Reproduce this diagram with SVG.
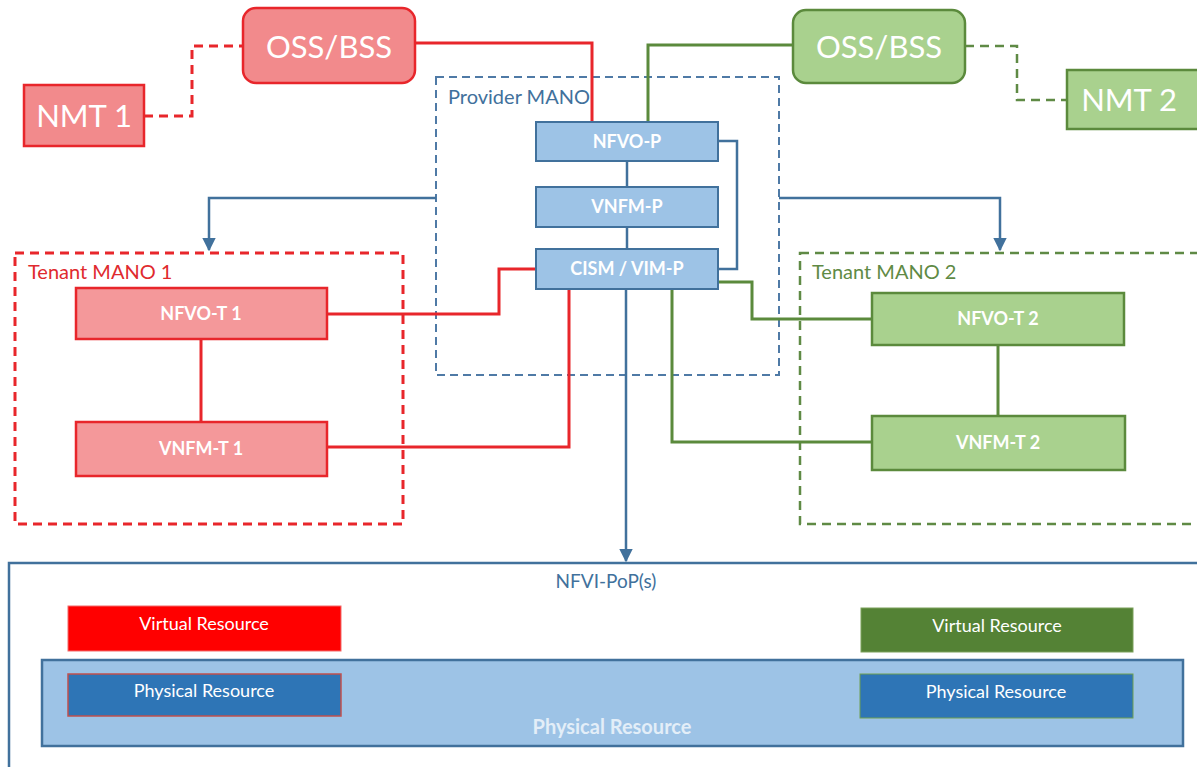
<svg xmlns="http://www.w3.org/2000/svg" width="1197" height="767" viewBox="0 0 1197 767">
  <style>
    .lbl { font-family: Lato, "Liberation Sans", sans-serif; }
    .big { font-size: 31px; fill: #ffffff; text-anchor: middle; }
    .node { font-size: 18px; font-weight: bold; fill: #ffffff; text-anchor: middle; }
    .res { font-size: 18px; fill: #ffffff; text-anchor: middle; }
    .red-box { fill: #f4989a; stroke: #e8262b; stroke-width: 2.5; }
    .red-main { fill: #f28a8c; stroke: #e8262b; stroke-width: 2.5; }
    .green-box { fill: #a9d18e; stroke: #5b8a3c; stroke-width: 2.5; }
    .blue-box { fill: #9dc3e6; stroke: #41719c; stroke-width: 2; }
    .c-red { fill: none; stroke: #e8262b; stroke-width: 3; }
    .c-green { fill: none; stroke: #5b8a3c; stroke-width: 3; }
    .c-blue { fill: none; stroke: #41719c; stroke-width: 2.5; }
    .dash-red { fill: none; stroke: #e8262b; stroke-width: 3; stroke-dasharray: 9 6; }
    .dash-green { fill: none; stroke: #5f8a45; stroke-width: 2.5; stroke-dasharray: 9 6; }
    .dash-blue { fill: none; stroke: #4f7aa6; stroke-width: 2; stroke-dasharray: 8 5; }
  </style>
  <defs>
    <marker id="arrow" viewBox="0 0 10 10" refX="9" refY="5" markerWidth="5.5" markerHeight="5.5" orient="auto" markerUnits="strokeWidth">
      <path d="M0,0 L10,5 L0,10 Z" fill="#41719c"/>
    </marker>
  </defs>

  <rect width="1197" height="767" fill="#ffffff"/>

  <!-- containers -->
  <g id="nfvi-pop">
    <rect x="9" y="563" width="1200" height="220" fill="#ffffff" stroke="#41719c" stroke-width="2.5"/>
    <text class="lbl" x="606" y="588" font-size="19" fill="#41719c" text-anchor="middle">NFVI-PoP(s)</text>
  </g>
  <g id="provider-mano">
    <rect x="436" y="77" width="343" height="298" class="dash-blue"/>
    <text class="lbl" x="448" y="104" font-size="20" fill="#41719c">Provider MANO</text>
  </g>
  <g id="tenant-mano-1">
    <rect x="15" y="253" width="388" height="271" class="dash-red"/>
    <text class="lbl" x="28" y="279" font-size="20" fill="#e02a2e">Tenant MANO 1</text>
  </g>
  <g id="tenant-mano-2">
    <rect x="800" y="253" width="420" height="271" class="dash-green"/>
    <text class="lbl" x="812" y="279" font-size="20" fill="#5f8a45">Tenant MANO 2</text>
  </g>

  <!-- connectors -->
  <g id="connectors">
    <path class="dash-red" d="M144,116 H192 V46 H243"/>
    <path class="dash-green" d="M965,46 H1017 V100 H1067"/>
    <path class="c-red" d="M415,43 H592 V122"/>
    <path class="c-green" d="M793,45 H648 V122"/>
    <path class="c-blue" d="M627,161 V187"/>
    <path class="c-blue" d="M627,227 V249"/>
    <path class="c-blue" d="M718,141 H737 V269 H718"/>
    <path class="c-blue" d="M436,198 H209 V250" marker-end="url(#arrow)"/>
    <path class="c-blue" d="M779,198 H1000 V250" marker-end="url(#arrow)"/>
    <path class="c-blue" d="M626,289 V561" marker-end="url(#arrow)"/>
    <path class="c-red" d="M536,269 H499 V314 H327"/>
    <path class="c-red" d="M569,289 V447 H327"/>
    <path class="c-red" d="M201,339 V422"/>
    <path class="c-green" d="M718,282 H752 V319 H872"/>
    <path class="c-green" d="M672,289 V442 H872"/>
    <path class="c-green" d="M998,345 V416"/>
  </g>

  <!-- management nodes -->
  <g id="nmt-1">
    <rect x="24" y="85" width="120" height="61" class="red-main"/>
    <text class="lbl big" x="84" y="127">NMT 1</text>
  </g>
  <g id="oss-bss-1">
    <rect x="243" y="8" width="172" height="75" rx="13" class="red-main"/>
    <text class="lbl big" x="329" y="58">OSS/BSS</text>
  </g>
  <g id="oss-bss-2">
    <rect x="793" y="10" width="172" height="73" rx="13" class="green-box"/>
    <text class="lbl big" x="879" y="58">OSS/BSS</text>
  </g>
  <g id="nmt-2">
    <rect x="1067" y="70" width="140" height="59" class="green-box"/>
    <text class="lbl big" x="1129" y="111">NMT 2</text>
  </g>

  <!-- provider nodes -->
  <g id="nfvo-p">
    <rect x="536" y="122" width="182" height="39" class="blue-box"/>
    <text class="lbl node" x="627" y="148">NFVO-P</text>
  </g>
  <g id="vnfm-p">
    <rect x="536" y="187" width="182" height="40" class="blue-box"/>
    <text class="lbl node" x="627" y="213">VNFM-P</text>
  </g>
  <g id="cism-vim-p">
    <rect x="536" y="249" width="182" height="40" class="blue-box"/>
    <text class="lbl node" x="627" y="275">CISM / VIM-P</text>
  </g>

  <!-- tenant nodes -->
  <g id="nfvo-t1">
    <rect x="76" y="288" width="251" height="51" class="red-box"/>
    <text class="lbl node" x="201" y="320">NFVO-T 1</text>
  </g>
  <g id="vnfm-t1">
    <rect x="76" y="422" width="251" height="54" class="red-box"/>
    <text class="lbl node" x="201" y="455">VNFM-T 1</text>
  </g>
  <g id="nfvo-t2">
    <rect x="872" y="293" width="252" height="52" class="green-box"/>
    <text class="lbl node" x="998" y="325">NFVO-T 2</text>
  </g>
  <g id="vnfm-t2">
    <rect x="872" y="416" width="253" height="54" class="green-box"/>
    <text class="lbl node" x="998" y="449">VNFM-T 2</text>
  </g>

  <!-- resources -->
  <g id="physical-layer">
    <rect x="42" y="660" width="1141" height="86" fill="#9dc3e6" stroke="#41719c" stroke-width="2.5"/>
    <text class="lbl" x="612" y="734" font-size="20" font-weight="bold" fill="#e3eef8" text-anchor="middle">Physical Resource</text>
  </g>
  <g id="virtual-resource-1">
    <rect x="68" y="606" width="273" height="45" fill="#ff0000" stroke="#f26b6b" stroke-width="1"/>
    <text class="lbl res" x="204" y="630">Virtual Resource</text>
  </g>
  <g id="physical-resource-1">
    <rect x="68" y="674" width="273" height="42" fill="#2e75b6" stroke="#c0504d" stroke-width="1.5"/>
    <text class="lbl res" x="204" y="697">Physical Resource</text>
  </g>
  <g id="virtual-resource-2">
    <rect x="861" y="608" width="272" height="44" fill="#548235" stroke="#7aa05a" stroke-width="1"/>
    <text class="lbl res" x="997" y="632">Virtual Resource</text>
  </g>
  <g id="physical-resource-2">
    <rect x="860" y="674" width="273" height="44" fill="#2e75b6" stroke="#6fa050" stroke-width="1"/>
    <text class="lbl res" x="996" y="698">Physical Resource</text>
  </g>
</svg>
